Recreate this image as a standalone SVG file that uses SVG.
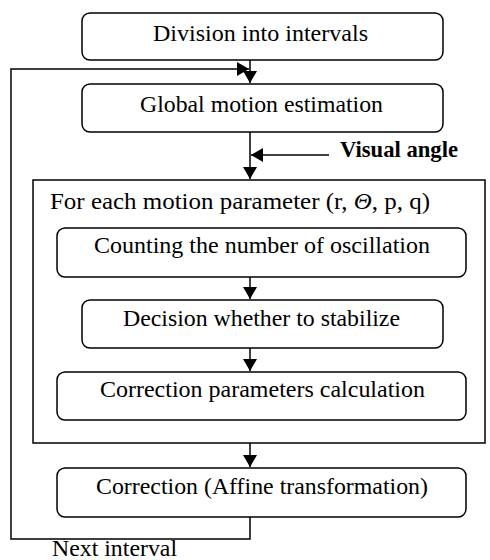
<svg xmlns="http://www.w3.org/2000/svg" width="490" height="560" viewBox="0 0 490 560">
<defs>
<marker id="ah" viewBox="0 0 12 14" refX="12" refY="7" markerWidth="12" markerHeight="14" markerUnits="userSpaceOnUse" orient="auto">
<path d="M0,0 L12,7 L0,14 Z" fill="#000"/>
</marker>
</defs>
<style>
.box{fill:#fff;stroke:#000;stroke-width:1.5}
.frame{fill:none;stroke:#000;stroke-width:1.5}
.t{font-family:"Liberation Serif","Times New Roman",serif;font-size:24px;fill:#000}
.ln{fill:none;stroke:#000;stroke-width:1.5}
</style>
<rect width="490" height="560" fill="#fff"/>
<g id="division">
<rect class="box" x="82" y="13" width="361" height="47" rx="8"/>
<text class="t" x="153" y="41" textLength="215" lengthAdjust="spacingAndGlyphs">Division into intervals</text>
</g>
<g id="global">
<rect class="box" x="82" y="84" width="361" height="48" rx="8"/>
<text class="t" x="140" y="112" textLength="243" lengthAdjust="spacingAndGlyphs">Global motion estimation</text>
</g>
<g id="visual">
<text class="t" x="340" y="157" font-size="22" font-weight="bold" textLength="118" lengthAdjust="spacingAndGlyphs">Visual angle</text>
</g>
<g id="foreach">
<rect class="frame" x="33" y="180" width="452" height="263"/>
<text class="t" x="50" y="209" textLength="380" lengthAdjust="spacingAndGlyphs">For each motion parameter (r, <tspan font-style="italic">Θ</tspan>, p, q)</text>
</g>
<g id="counting">
<rect class="box" x="57" y="228" width="409" height="49" rx="8"/>
<text class="t" x="94" y="253" textLength="336" lengthAdjust="spacingAndGlyphs">Counting the number of oscillation</text>
</g>
<g id="decision">
<rect class="box" x="82" y="300" width="361" height="48" rx="8"/>
<text class="t" x="123" y="326" textLength="277" lengthAdjust="spacingAndGlyphs">Decision whether to stabilize</text>
</g>
<g id="params">
<rect class="box" x="57" y="372" width="409" height="48" rx="8"/>
<text class="t" x="100" y="397" textLength="325" lengthAdjust="spacingAndGlyphs">Correction parameters calculation</text>
</g>
<g id="correction">
<rect class="box" x="57" y="468" width="409" height="49" rx="8"/>
<text class="t" x="96" y="494" textLength="332" lengthAdjust="spacingAndGlyphs">Correction (Affine transformation)</text>
</g>
<g id="next">
<text class="t" x="52" y="556" font-size="22" textLength="125" lengthAdjust="spacingAndGlyphs">Next interval</text>
</g>
<g id="connectors">
<line class="ln" x1="250" y1="60" x2="250" y2="83" marker-end="url(#ah)"/>
<polyline class="ln" points="250,517 250,539 11,539 11,69 249,69" marker-end="url(#ah)"/>
<line class="ln" x1="250" y1="132" x2="250" y2="179" marker-end="url(#ah)"/>
<line class="ln" x1="329" y1="155" x2="251" y2="155" marker-end="url(#ah)"/>
<line class="ln" x1="250" y1="277" x2="250" y2="299" marker-end="url(#ah)"/>
<line class="ln" x1="250" y1="348" x2="250" y2="371" marker-end="url(#ah)"/>
<line class="ln" x1="250" y1="443" x2="250" y2="467" marker-end="url(#ah)"/>
</g>
</svg>
